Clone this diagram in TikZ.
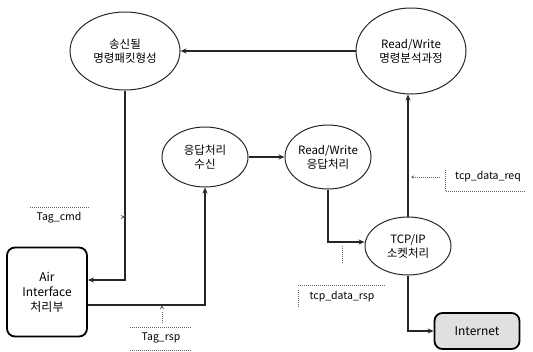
\documentclass[tikz,border=0pt]{standalone}
\usepackage{fontspec}
\setmainfont{Noto Sans CJK KR}
\usetikzlibrary{arrows.meta,shapes.geometric}
\begin{document}
\begin{tikzpicture}[x=1pt,y=-1pt,
  proc/.style={draw=black!85, ellipse, line width=1pt, inner sep=0pt, align=center,
    font=\fontsize{11.5}{14}\selectfont},
  box/.style={draw=black, rounded corners=8pt, line width=1.8pt, inner sep=0pt, align=center,
    font=\fontsize{12}{15}\selectfont},
  arr/.style={draw=black!85, line width=1.2pt, -{Stealth[length=6pt,width=5pt]}},
  note/.style={font=\fontsize{10.5}{12}\selectfont, inner sep=0pt},
  hint/.style={draw=black!60, line width=0.7pt, dash pattern=on 0.8pt off 1.2pt},
]
\useasboundingbox (0,0) rectangle (533,351);
\node[proc, minimum width=110pt, minimum height=78pt] (send) at (125,51) {송신될\\명령패킷형성};
\node[proc, minimum width=110pt, minimum height=86pt] (parse) at (411,51) {Read/Write\\명령분석과정};
\node[proc, minimum width=86pt, minimum height=60pt] (recv) at (205,157) {응답처리\\수신};
\node[proc, minimum width=86pt, minimum height=64pt] (rwrsp) at (328,157) {Read/Write\\응답처리};
\node[proc, minimum width=86pt, minimum height=58pt] (tcp) at (408,246) {TCP/IP\\소켓처리};
\node[box, minimum width=80pt, minimum height=89pt] (air) at (47,292) {Air\\Interface\\처리부};
\node[box, fill=black!12, minimum width=85pt, minimum height=36pt] (net) at (477,331) {Internet};

\draw[arr] (parse.west) -- (send.east);
\draw[arr] (send.south) |- ([yshift=12pt]air.east);
\draw[arr] ([yshift=-13pt]air.east) -| (recv.south);
\draw[arr] (recv.east) -- (rwrsp.west);
\draw[arr] (rwrsp.south) |- ([yshift=4pt]tcp.west);
\draw[arr] (tcp.north) -- (tcp.north |- parse.south);
\draw[arr] (tcp.south) |- (net.west);

% Tag_cmd
\node[note] (tagcmd) at (59,218) {Tag\_cmd};
\draw[hint] (30,207) -- (90,207);
\draw[black!70, line width=0.5pt] (121,215) -- (125,219) (121,219) -- (125,215);
% Tag_rsp
\node[note] (tagrsp) at (161,338) {Tag\_rsp};
\draw[hint] (130,327) -- (192,327);
\draw[hint] (130,350) -- (192,350);
\draw[hint] (162,312) -- (162,324);
\draw[black!70, line width=0.5pt] (160,305) -- (164,309) (160,309) -- (164,305);
% tcp_data_req
\node[note] (tcpreq) at (488,177) {tcp\_data\_req};
\coordinate (reqend) at (411,177);
\draw[hint, -{Stealth[length=3pt,width=3pt]}] (440,177) -- (reqend);
\draw[hint] (445,170) -- (445,191) -- (525,191);
% tcp_data_rsp
\node[note] (tcprsp) at (342,297) {tcp\_data\_rsp};
\draw[hint] (298,285) -- (385,285);
\draw[hint] (298,290) -- (298,307);
\draw[hint] (342,246) -- (342,264);
\end{tikzpicture}
\end{document}
